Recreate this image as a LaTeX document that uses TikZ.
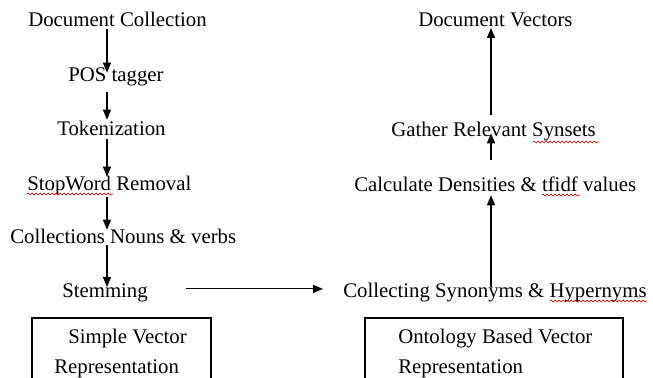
\documentclass[tikz,border=0pt]{standalone}
\usepackage{fontspec}
\setmainfont{Liberation Serif}
\usetikzlibrary{arrows.meta,decorations.pathmorphing}
\tikzset{
  lbl/.style={inner sep=0pt, anchor=base west, text height=9.75pt, text depth=3pt,
              font=\fontsize{15.6}{22.5}\selectfont},
  arr/.style={line width=0.8pt, -{Triangle[length=7.5pt,width=6pt]}},
  boxline/.style={line width=0.9pt},
  squig/.style={red!80!black, line width=0.5pt,
                decorate, decoration={snake, amplitude=0.7pt, segment length=3pt}}
}
\begin{document}
\begin{tikzpicture}[x=0.75pt,y=-0.75pt]
\useasboundingbox (0,0) rectangle (653,378);
\clip (0,0) rectangle (653,378);
% column coordinates
\coordinate (lx) at (107,0);
\coordinate (rx) at (491,0);
% left column
\node[lbl] (dc)   at (28,27)  {Document Collection};
\node[lbl] (pos)  at (68,82)  {POS tagger};
\node[lbl] (tok)  at (57,135) {Tokenization};
\node[lbl] (stop) at (27,190) {StopWord Removal};
\node[lbl] (nv)   at (10,243) {Collections Nouns \& verbs};
\node[lbl] (stem) at (62,297) {Stemming};
% right column
\node[lbl] (dv)   at (418,27)  {Document Vectors};
\node[lbl] (gat)  at (391,137) {Gather Relevant Synsets};
\node[lbl] (calc) at (354,191) {Calculate Densities \& tfidf values};
\node[lbl] (syn)  at (343,297) {Collecting Synonyms \& Hypernyms};
% boxes
\draw[boxline] (32,392) -- (32,318) -- (211,318) -- (211,392);
\draw[boxline] (365,392) -- (365,318) -- (623,318) -- (623,392);
\node[lbl, align=left] (svr) at (54,373) {\hspace*{10.5pt}Simple Vector\\Representation};
\node[lbl, align=left] (obr) at (398,373) {Ontology Based Vector\\Representation};
% left arrows
\draw[arr, shorten <=-1.5pt, shorten >=-3pt] (dc.south -| lx) -- (pos.north -| lx);
\draw[arr, shorten <=4.5pt, shorten >=1.5pt] (pos.south -| lx) -- (tok.north -| lx);
\draw[arr] (tok.south -| lx) -- (stop.north -| lx);
\draw[arr, shorten <=2pt] (stop.south -| lx) -- (nv.north -| lx);
\draw[arr, shorten <=-1.5pt, shorten >=-2.5pt] (nv.south -| lx) -- (stem.north -| lx);
% right arrows
\draw[arr, shorten <=6.5pt, shorten >=-2.5pt] (gat.north -| rx) -- (dv.south -| rx);
\draw[arr, shorten <=13pt, shorten >=-6pt] (calc.north -| rx) -- (gat.south -| rx);
\draw[arr, shorten <=-2.5pt] (syn.north -| rx) -- (calc.south -| rx);
% horizontal arrow
\draw[arr, shorten <=28.5pt, shorten >=15pt] ([yshift=2.7pt]stem.east) -- ([yshift=2.7pt]syn.west);
% spell-check squiggles
\draw[squig] (27,194) -- (113,194);
\draw[squig] (533,142) -- (599,142);
\draw[squig] (542,195) -- (580,195);
\draw[squig] (550,301) -- (647,301);
\end{tikzpicture}
\end{document}
